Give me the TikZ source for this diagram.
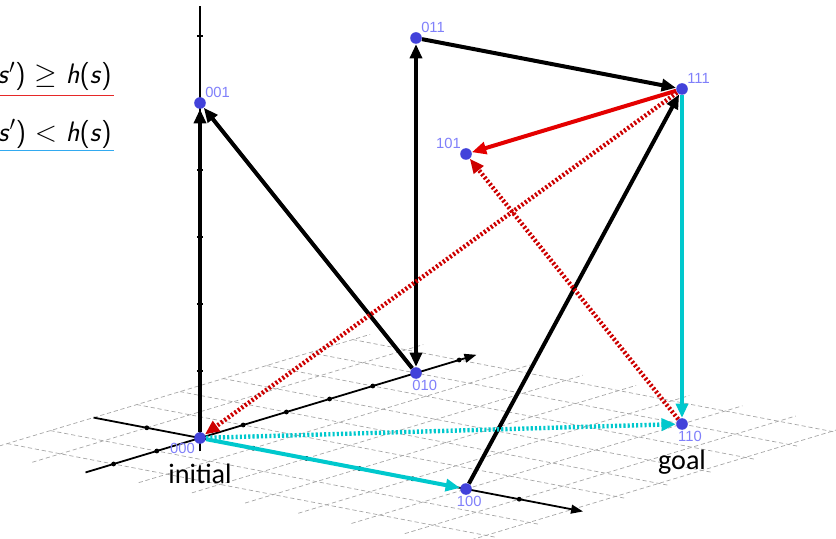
\documentclass[tikz,border=0pt]{standalone}
\usepackage{fontspec}
\newfontfamily\lblfont{Liberation Sans}
\newfontfamily\goalfont{Carlito}
\usetikzlibrary{arrows.meta,positioning}
\definecolor{ptblue}{RGB}{66,66,218}
\definecolor{lblblue}{RGB}{128,128,250}
\definecolor{bettercol}{RGB}{0,200,205}
\definecolor{worsecol}{RGB}{228,0,0}
\definecolor{worsedot}{RGB}{205,0,0}
\definecolor{legred}{RGB}{230,40,40}
\definecolor{legblue}{RGB}{50,170,240}

\begin{document}
\begin{tikzpicture}[x={(6.65cm,-1.275cm)},y={(5.4cm,1.625cm)},z={(0cm,8.375cm)},
  font=\lblfont\fontsize{10.5}{12}\selectfont,
  cubept/.style={circle,fill=ptblue,inner sep=0pt,minimum size=0.29cm},
  lbl/.style={text=lblblue,inner sep=0.5pt},
  place/.style={font=\goalfont\fontsize{20}{24}\selectfont,inner sep=0pt},
  legend/.style={font=\sffamily\fontsize{20}{24}\selectfont,inner sep=0pt},
  gridline/.style={gray!70,line width=0.5pt,dash pattern=on 3pt off 2pt},
  axis/.style={black,line width=0.045cm},
  move/.style={line width=0.1cm,-{Triangle[length=0.36cm,width=0.3cm]}},
  better/.style={bettercol},
  worse/.style={worsecol},
  dots/.style={dash pattern=on 1.5pt off 1.5pt,line width=0.11cm}]
  \useasboundingbox (-5cm,-2.5cm) rectangle (15.9cm,10.95cm);
  \clip (-5cm,-2.5cm) rectangle (15.9cm,10.95cm);

  % ground grid
  \foreach \v in {-0.4,-0.2,0.2,0.4,0.6,0.8,1.0,1.2}
    \draw[gridline] (-0.4,\v,0) -- (1.44,\v,0);
  \foreach \u in {-0.4,-0.2,0.2,0.4,0.6,0.8,1.0,1.2,1.4}
    \draw[gridline] (\u,-0.53,0) -- (\u,1.28,0);

  % axes and ticks
  \draw[axis,-{Triangle[length=0.3cm,width=0.22cm]}] (-0.4,0,0) -- (1.44,0,0);
  \draw[axis,-{Triangle[length=0.3cm,width=0.22cm]}] (0,-0.53,0) -- (0,1.28,0);
  \draw[axis] (0,0,-0.04) -- (0,0,1.29);
  \foreach \t in {-0.2,0.2,0.4,0.6,0.8,1.2}
    \fill (\t,0,0) circle (0.06cm);
  \foreach \t in {-0.4,-0.2,0.2,0.4,0.6,0.8,1.2}
    \fill (0,\t,0) circle (0.06cm);
  \foreach \t in {0.2,0.4,0.6,0.8,1.2}
    \draw[axis] (0,0,\t) ++(-0.08cm,0cm) -- ++(0.16cm,0cm);

  % legend
  \node[legend,anchor=base east] (higher) at (-2.2cm,8.85cm)
    {\textit{h}(\textit{s}$'$)~$\geq$~\textit{h}(\textit{s})};
  \node[legend,anchor=base east] (lower) at (-2.2cm,7.42cm)
    {\textit{h}(\textit{s}$'$)~$<$~\textit{h}(\textit{s})};
  \draw[legred,line width=0.04cm] ([yshift=-0.1cm]higher.south west) -- ([yshift=-0.1cm,xshift=0.05cm]higher.south east);
  \draw[legblue,line width=0.04cm] ([yshift=-0.05cm]lower.south west) -- ([yshift=-0.05cm,xshift=0.05cm]lower.south east);

  % states
  \node[cubept,label={[lbl]below left:000}] (s000) at (0,0,0) {};
  \node[cubept,label={[lbl,xshift=0.22cm]below:010}] (s010) at (0,1,0) {};
  \node[cubept,label={[lbl,xshift=0.08cm]below:100}] (s100) at (1,0,0) {};
  \node[cubept,label={[lbl,xshift=0.2cm]below:110}] (s110) at (1,1,0) {};
  \node[cubept,label={[lbl]above right:001}] (s001) at (0,0,1) {};
  \node[cubept,label={[lbl]above right:011}] (s011) at (0,1,1) {};
  \node[cubept,label={[lbl]above left:101}] (s101) at (1,0,1) {};
  \node[cubept,label={[lbl]above right:111}] (s111) at (1,1,1) {};
  \node[place,below=0.5cm of s000] (init) {initial};
  \node[place,below=0.5cm of s110] (goal) {goal};

  % moves
  \draw[move] (s000) -- (s001);
  \draw[move] (s010) -- (s001);
  \draw[move,{Triangle[length=0.36cm,width=0.3cm]}-{Triangle[length=0.36cm,width=0.3cm]}] (s010) -- (s011);
  \draw[move] (s011) -- (s111);
  \draw[move] (s100) -- (s111);
  \draw[move,worse] (s111) -- (s101);
  \draw[move,worse,worsedot,dots] (s111) -- (s000);
  \draw[move,worse,worsedot,dots] (s110) -- (s101);
  \draw[move,better] (s000) -- (s100);
  \draw[move,better] (s111) -- (s110);
  \draw[move,better,dots] (s000) -- (s110);
\end{tikzpicture}
\end{document}
